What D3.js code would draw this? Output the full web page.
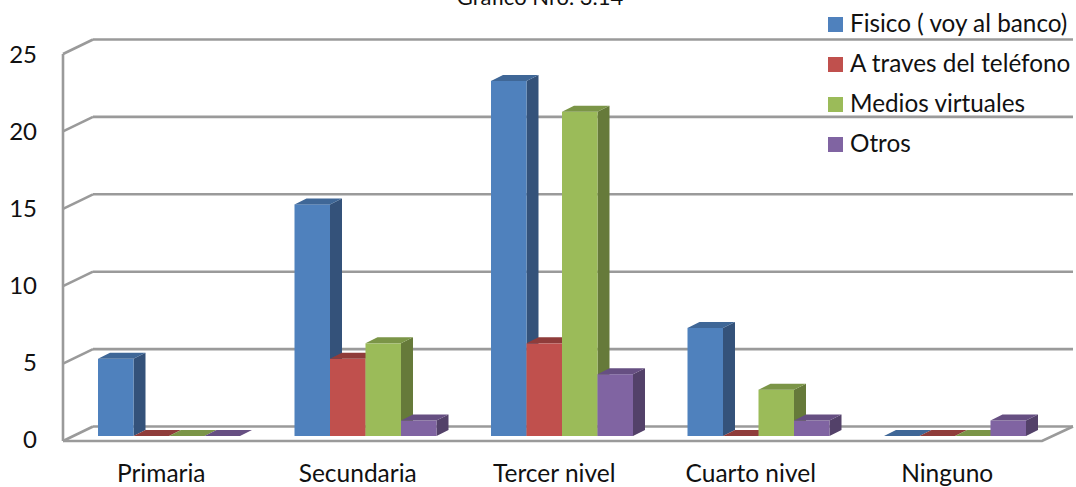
<!DOCTYPE html>
<html><head><meta charset="utf-8">
<script src="https://cdnjs.cloudflare.com/ajax/libs/d3/7.9.0/d3.min.js"></script>
<style>html,body{margin:0;background:#fff}svg{display:block;font-family:Lato,"Open Sans",sans-serif}</style>
</head><body><svg id="c" width="1076" height="487"></svg>
<script>
const categories = ["Primaria","Secundaria","Tercer nivel","Cuarto nivel","Ninguno"];
const seriesNames = ["Fisico ( voy al banco)","A traves del teléfono","Medios virtuales","Otros"];
const fisico = [5,15,23,7,0];
const telefono = [0,5,6,0,0];
const virtuales = [0,6,21,3,0];
const otros = [0,1,4,1,1];
const seriesValues = [fisico,telefono,virtuales,otros];
const yTicks = [0,5,10,15,20,25];
const fronts = ["#4f81bd","#c0504d","#9bbb59","#8064a2"];
const sides = ["#34527a","#7d3432","#667a3a","#534169"];
const tops = ["#3f6797","#8f3c3a","#7b9547","#664f82"];

const svg = d3.select("#c");
const grid = "#9a9a9a";
// Oblique projection: the floor recedes up and to the right
const wallDx = 30, wallDy = -14.5;
const x0 = d3.scaleBand().domain(categories).range([63,1045.5]);
const yWall = d3.scaleLinear().domain([0,25]).range([441,54]);
const yBar = d3.scaleLinear().domain([0,25]).range([436,50]);
const yLabel = d3.scaleLinear().domain([0,25]).range([448,63]);
const barW = 35.5, depthX = 12, depthY = 6;
const pts = a => a.map(p=>p.join(",")).join(" ");

// Back wall gridlines and the slanted edges on the side wall
const g = svg.append("g").attr("fill","none").attr("stroke",grid).attr("stroke-width",2.6);
yTicks.forEach(t=>{
  const y = yWall(t);
  g.append("line").attr("x1",63+wallDx).attr("x2",1073).attr("y1",y+wallDy).attr("y2",y+wallDy);
  g.append("line").attr("x1",63).attr("x2",63+wallDx).attr("y1",y).attr("y2",y+wallDy);
});
g.append("line").attr("x1",63).attr("x2",63).attr("y1",yWall(25)).attr("y2",yWall(0));
// Floor outline
g.append("polyline").attr("points",pts([[63,yWall(0)],[1042,yWall(0)],[1073,yWall(0)+wallDy]]));

// Bars: front, side and top faces
const groupStart = c => x0(c) + 35;
categories.forEach((c,ci)=>{
  seriesValues.forEach((vals,si)=>{
    const v = vals[ci], x = groupStart(c) + si*barW, yb = yBar(0), yt = yBar(v);
    const b = svg.append("g");
    if (v>0) {
      b.append("polygon").attr("fill",sides[si]).attr("points",pts([[x+barW,yt],[x+barW+depthX,yt-depthY],[x+barW+depthX,yb-depthY],[x+barW,yb]]));
      b.append("rect").attr("x",x).attr("y",yt).attr("width",barW).attr("height",yb-yt).attr("fill",fronts[si]);
    }
    b.append("polygon").attr("fill",tops[si]).attr("points",pts([[x,yt],[x+depthX,yt-depthY],[x+barW+depthX,yt-depthY],[x+barW,yt]]));
  });
});

// Value axis labels
svg.append("g").selectAll("text").data(yTicks).join("text")
  .attr("x",37).attr("y",d=>yLabel(d)).attr("text-anchor","end")
  .attr("font-size",24).attr("fill","#111").text(d=>d);
// Category labels
svg.append("g").selectAll("text").data(categories).join("text")
  .attr("x",d=>x0(d)+x0.bandwidth()/2).attr("y",482).attr("text-anchor","middle")
  .attr("font-size",24.5).attr("fill","#111").text(d=>d);
// Title, sitting against the top edge of the page
svg.append("text").attr("x",540).attr("y",5).attr("text-anchor","middle")
  .attr("font-size",22).attr("fill","#111").text("Gráfico Nro. 3.14");
// Legend
const lg = svg.append("g").selectAll("g").data(seriesNames).join("g")
  .attr("transform",(d,i)=>`translate(828,${17+i*40})`);
lg.append("rect").attr("width",15).attr("height",15).attr("fill",(d,i)=>fronts[i]);
lg.append("text").attr("x",22).attr("y",15).attr("font-size",24.3).attr("fill","#111").text(d=>d);
</script></body></html>
